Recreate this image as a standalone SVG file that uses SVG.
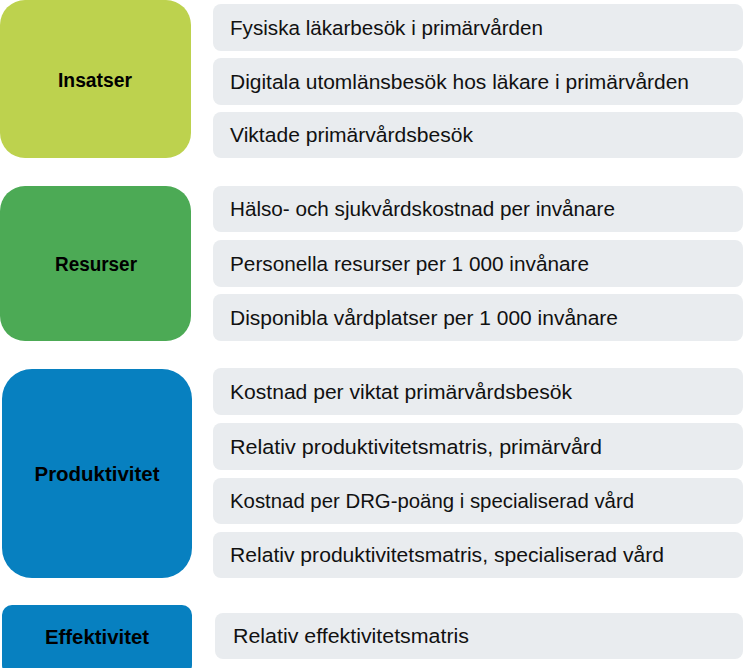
<svg xmlns="http://www.w3.org/2000/svg" width="744" height="668" viewBox="0 0 744 668">
<style>
.item{fill:#E9ECEF}
.it{font-family:"Liberation Sans",Arial,sans-serif;font-size:20.5px;fill:#111}
.lb{font-family:"Liberation Sans",Arial,sans-serif;font-size:19.5px;font-weight:bold;fill:#000;text-anchor:middle}
</style>
<rect width="744" height="668" fill="#fff"/>
<g id="insatser">
<rect x="0" y="0" width="191" height="158" rx="25" fill="#BDD24E"/>
<text class="lb" x="95" y="87" textLength="74" lengthAdjust="spacingAndGlyphs">Insatser</text>
</g>
<g id="resurser">
<rect x="0" y="186" width="191" height="155" rx="25" fill="#4CAA55"/>
<text class="lb" x="96" y="271" textLength="82" lengthAdjust="spacingAndGlyphs">Resurser</text>
</g>
<g id="produktivitet">
<rect x="2" y="369" width="190" height="209" rx="30" fill="#0780C0"/>
<text class="lb" x="97" y="481" textLength="125" lengthAdjust="spacingAndGlyphs">Produktivitet</text>
</g>
<g id="effektivitet">
<rect x="2" y="605" width="190" height="70" rx="10" fill="#0780C0"/>
<text class="lb" x="97" y="644" textLength="104" lengthAdjust="spacingAndGlyphs">Effektivitet</text>
</g>
<g id="item1"><rect class="item" x="213" y="4" width="530" height="47" rx="8"/><text class="it" x="230" y="35" textLength="313" lengthAdjust="spacingAndGlyphs">Fysiska läkarbesök i primärvården</text></g>
<g id="item2"><rect class="item" x="213" y="58" width="530" height="47" rx="8"/><text class="it" x="230" y="89" textLength="459" lengthAdjust="spacingAndGlyphs">Digitala utomlänsbesök hos läkare i primärvården</text></g>
<g id="item3"><rect class="item" x="213" y="112" width="530" height="46" rx="8"/><text class="it" x="230" y="142" textLength="243" lengthAdjust="spacingAndGlyphs">Viktade primärvårdsbesök</text></g>
<g id="item4"><rect class="item" x="213" y="186" width="530" height="46" rx="8"/><text class="it" x="230" y="216" textLength="385" lengthAdjust="spacingAndGlyphs">Hälso- och sjukvårdskostnad per invånare</text></g>
<g id="item5"><rect class="item" x="213" y="240" width="530" height="47" rx="8"/><text class="it" x="230" y="271" textLength="359" lengthAdjust="spacingAndGlyphs">Personella resurser per 1 000 invånare</text></g>
<g id="item6"><rect class="item" x="213" y="294" width="530" height="47" rx="8"/><text class="it" x="230" y="325" textLength="388" lengthAdjust="spacingAndGlyphs">Disponibla vårdplatser per 1 000 invånare</text></g>
<g id="item7"><rect class="item" x="213" y="368" width="530" height="47" rx="8"/><text class="it" x="230" y="399" textLength="342" lengthAdjust="spacingAndGlyphs">Kostnad per viktat primärvårdsbesök</text></g>
<g id="item8"><rect class="item" x="213" y="423" width="530" height="47" rx="8"/><text class="it" x="230" y="454" textLength="372" lengthAdjust="spacingAndGlyphs">Relativ produktivitetsmatris, primärvård</text></g>
<g id="item9"><rect class="item" x="213" y="478" width="530" height="46" rx="8"/><text class="it" x="230" y="508" textLength="404" lengthAdjust="spacingAndGlyphs">Kostnad per DRG-poäng i specialiserad vård</text></g>
<g id="item10"><rect class="item" x="213" y="532" width="530" height="46" rx="8"/><text class="it" x="230" y="562" textLength="434" lengthAdjust="spacingAndGlyphs">Relativ produktivitetsmatris, specialiserad vård</text></g>
<g id="item11"><rect class="item" x="215" y="613" width="528" height="46" rx="8"/><text class="it" x="233" y="643" textLength="236" lengthAdjust="spacingAndGlyphs">Relativ effektivitetsmatris</text></g>
<g id="connectors"></g>
</svg>
